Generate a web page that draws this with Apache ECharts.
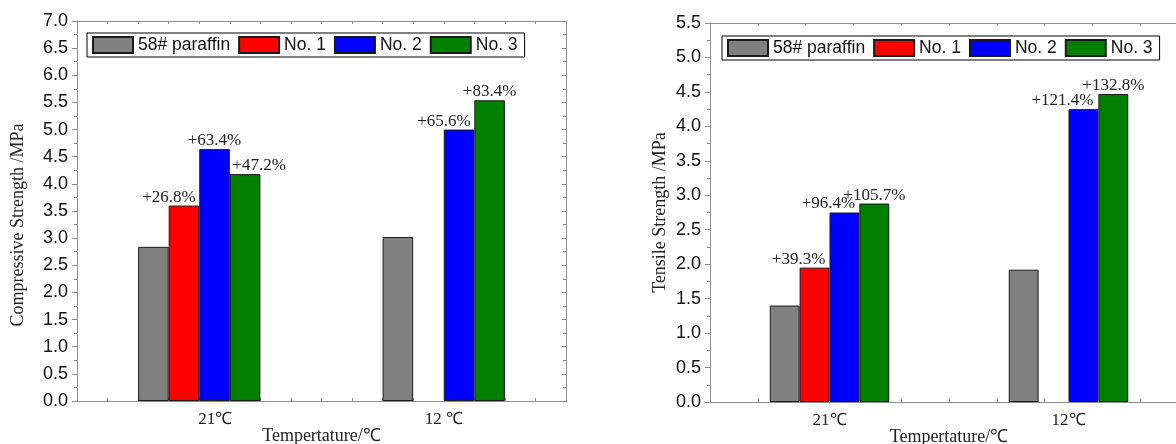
<!DOCTYPE html>
<html>
<head>
<meta charset="utf-8">
<script src="https://cdn.jsdelivr.net/npm/echarts@6/dist/echarts.min.js"></script>
<style>
html,body{margin:0;padding:0;background:#fff;}
#chart{width:1176px;height:444px;}
</style>
</head>
<body>
<div id="chart"></div>
<script>
// ---------- data ----------
const seriesNames = ['58# paraffin', 'No. 1', 'No. 2', 'No. 3'];
const categoriesComp = ['21℃', '12 ℃'];
const categoriesTens = ['21℃', '12℃'];

const compParaffin = [2.84, 3.02];
const compNo1 = [3.60, null];
const compNo2 = [4.64, 5.00];
const compNo3 = [4.18, 5.54];
const compLabelsNo1 = ['+26.8%', ''];
const compLabelsNo2 = ['+63.4%', '+65.6%'];
const compLabelsNo3 = ['+47.2%', '+83.4%'];

const tensParaffin = [1.40, 1.92];
const tensNo1 = [1.95, null];
const tensNo2 = [2.75, 4.25];
const tensNo3 = [2.88, 4.47];
const tensLabelsNo1 = ['+39.3%', ''];
const tensLabelsNo2 = ['+96.4%', '+121.4%'];
const tensLabelsNo3 = ['+105.7%', '+132.8%'];

const compAxisMax = 7.0;
const tensAxisMax = 5.5;
const yInterval = 0.5;

const xNameText = 'Tempertature/℃';
const compYName = 'Compressive Strength /MPa';
const tensYName = 'Tensile Strength /MPa';

// ---------- styling ----------
const colors = ['#808080', '#ff0000', '#0000ff', '#008000'];
const frameColor = '#8c8c8c';
const serif = 'Liberation Serif, Times New Roman, serif';
const sans = 'Liberation Sans, Arial, sans-serif';
// horizontal nudges of percentage labels (px), by [series][category]
const compShift = [[0, 0], [-15, 0], [0, -15], [14, 0]];
const tensShift = [[0, 0], [-16, 0], [-16, -21], [0, 0]];

function items(values, labels, shifts) {
  return values.map((v, i) => {
    const txt = labels ? labels[i] : '';
    return {
      value: v,
      label: {
        show: !!txt,
        formatter: txt || '',
        offset: [shifts[i], 0]
      }
    };
  });
}

function valueY(gridIndex, max, pos, showLabels) {
  return {
    type: 'value', gridIndex: gridIndex, position: pos,
    min: 0, max: max, interval: yInterval,
    axisLine: {show: true, onZero: false, lineStyle: {color: frameColor, width: 1}},
    axisTick: {show: true, inside: !showLabels, length: showLabels ? 5 : 4, lineStyle: {color: frameColor}},
    minorTick: {show: true, splitNumber: 2, length: 3, lineStyle: {color: frameColor}},
    splitLine: {show: false},
    axisLabel: {show: showLabels, color: '#111', fontSize: 18, fontFamily: sans, margin: 9,
      formatter: v => v.toFixed(1)},
    nameMoveOverlap: false,
    nameTextStyle: {fontFamily: serif, fontSize: 18, color: '#222'}
  };
}

function tickX(gridIndex, max, pos) {
  return {
    type: 'value', gridIndex: gridIndex, position: pos,
    min: 0, max: max, interval: 1,
    axisLine: {show: pos === 'top', onZero: false, lineStyle: {color: frameColor, width: 1}},
    axisTick: {show: true, inside: true, length: 3, lineStyle: {color: frameColor}},
    axisLabel: {show: false},
    splitLine: {show: false}
  };
}

function catX(gridIndex, cats, richFirst) {
  return {
    type: 'category', gridIndex: gridIndex, data: cats, position: 'bottom',
    axisLine: {show: true, onZero: false, lineStyle: {color: frameColor, width: 1}},
    axisTick: {show: false},
    axisLabel: {
      color: '#222', fontFamily: serif, fontSize: 17, margin: 10,
      formatter: (v, i) => (richFirst && i === 0) ? '{s|' + v + '}' : v,
      rich: {s: {fontFamily: serif, fontSize: 17, color: '#222', padding: [0, 0, 0, 32]}}
    },
    name: xNameText, nameLocation: 'middle', nameGap: 26, nameMoveOverlap: false,
    nameTextStyle: {fontFamily: serif, fontSize: 18, color: '#222'}
  };
}

function barSeries(name, idx, xAxisIndex, yAxisIndex, data) {
  return {
    name: name, type: 'bar', xAxisIndex: xAxisIndex, yAxisIndex: yAxisIndex,
    barGap: '0%', barCategoryGap: '50%',
    itemStyle: {color: colors[idx], borderColor: '#1a1a1a', borderWidth: 1},
    label: {show: false, position: 'top', distance: 0, color: '#222', fontFamily: serif, fontSize: 17},
    emphasis: {disabled: true},
    animation: false,
    data: data
  };
}

const chart = echarts.init(document.getElementById('chart'), null, {renderer: 'canvas'});

const yComp = valueY(0, compAxisMax, 'left', true);
yComp.name = compYName; yComp.nameLocation = 'middle'; yComp.nameGap = 50;
yComp.nameTextStyle.padding = [0, 28, 0, 0];
const yTens = valueY(1, tensAxisMax, 'left', true);
yTens.name = tensYName; yTens.nameLocation = 'middle'; yTens.nameGap = 41;

const legendCommon = {
  orient: 'horizontal', itemWidth: 40, itemHeight: 16, itemGap: 8,
  borderColor: '#000', borderWidth: 1, padding: [3, 7, 3, 5],
  backgroundColor: '#fff',
  textStyle: {fontFamily: sans, fontSize: 17.5, color: '#111'},
  selectedMode: false,
  data: seriesNames.map(n => ({name: n, icon: 'rect'}))
};

const option = {
  animation: false,
  backgroundColor: '#fff',
  grid: [
    {left: 77, right: 610, top: 21, bottom: 43, show: false, outerBoundsMode: 'none', containLabel: false},
    {left: 710, width: 478, top: 23, bottom: 42, show: false, outerBoundsMode: 'none', containLabel: false}
  ],
  legend: [
    Object.assign({}, legendCommon, {left: 87, top: 33}),
    Object.assign({}, legendCommon, {left: 722, top: 36})
  ],
  xAxis: [
    catX(0, categoriesComp, true),
    tickX(0, 16, 'top'),
    tickX(0, 16, 'bottom'),
    catX(1, categoriesTens, false),
    tickX(1, 10, 'top'),
    tickX(1, 10, 'bottom')
  ],
  yAxis: [
    yComp,
    valueY(0, compAxisMax, 'right', false),
    yTens,
    valueY(1, tensAxisMax, 'right', false)
  ],
  series: [
    barSeries(seriesNames[0], 0, 0, 0, items(compParaffin, null, compShift[0])),
    barSeries(seriesNames[1], 1, 0, 0, items(compNo1, compLabelsNo1, compShift[1])),
    barSeries(seriesNames[2], 2, 0, 0, items(compNo2, compLabelsNo2, compShift[2])),
    barSeries(seriesNames[3], 3, 0, 0, items(compNo3, compLabelsNo3, compShift[3])),
    barSeries(seriesNames[0], 0, 3, 2, items(tensParaffin, null, tensShift[0])),
    barSeries(seriesNames[1], 1, 3, 2, items(tensNo1, tensLabelsNo1, tensShift[1])),
    barSeries(seriesNames[2], 2, 3, 2, items(tensNo2, tensLabelsNo2, tensShift[2])),
    barSeries(seriesNames[3], 3, 3, 2, items(tensNo3, tensLabelsNo3, tensShift[3]))
  ]
};
chart.setOption(option);
</script>
</body>
</html>
